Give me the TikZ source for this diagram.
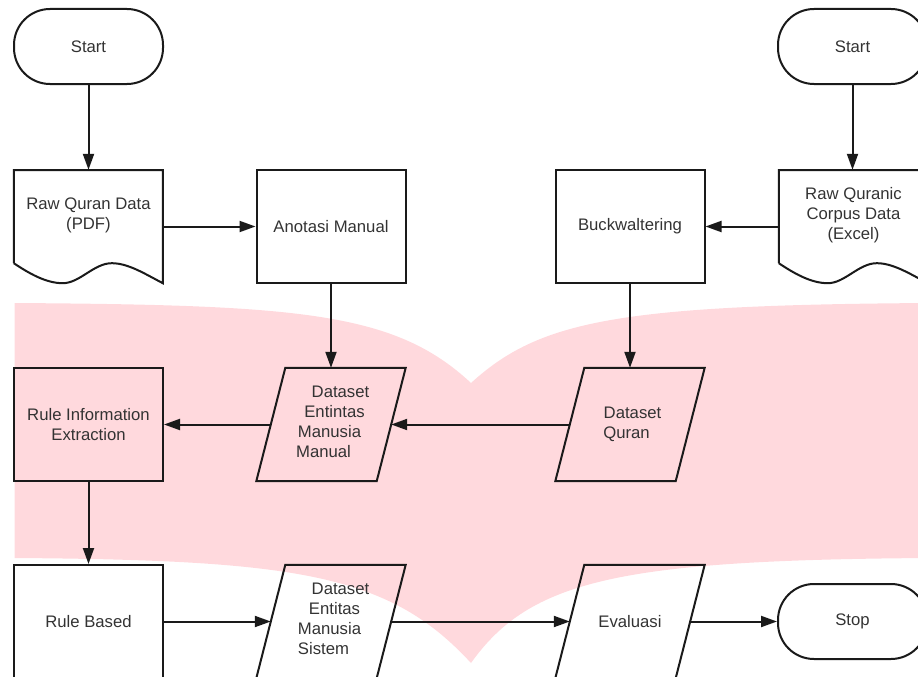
\documentclass[tikz,border=0pt]{standalone}
\usepackage{fontspec}
\setmainfont{Liberation Sans}
\usetikzlibrary{arrows.meta}
\definecolor{pinkbg}{RGB}{255,217,221}
\definecolor{txt}{HTML}{333333}
\definecolor{ln}{HTML}{1A1A1A}
\newcommand{\lnshift}[2]{\makebox[0pt][c]{\hspace{#1}#2}}
\begin{document}
\begin{tikzpicture}[x=1pt,y=-1pt,
  every node/.style={font=\fontsize{16.7}{20}\selectfont, text=txt},
  term/.style={draw=ln, line width=2pt, rounded corners=36pt, minimum width=149pt, minimum height=75pt, inner sep=0pt},
  procbox/.style={draw=ln, line width=2pt, minimum width=149pt, minimum height=113pt, inner sep=0pt, align=center},
  docnode/.style={minimum width=149pt, minimum height=113pt, inner sep=0pt, align=center},
  paranode/.style={minimum width=120pt, minimum height=113pt, inner sep=0pt, align=center},
  shapeline/.style={draw=ln, line width=2pt},
  arr/.style={draw=ln, line width=2pt, -{Triangle[length=16pt,width=11pt]}}
]
\useasboundingbox (0,0) rectangle (918,677);
% pink background banner
\fill[pinkbg] (14.6,303) .. controls (300,305) and (395,312) .. (471,383)
  .. controls (540,320) and (620,305) .. (930,303) -- (930,558)
  .. controls (620,560) and (530,580) .. (471,663)
  .. controls (390,575) and (300,560) .. (14.6,558) -- cycle;

% top row
\node[term] (s1) at (88.5,46.5) {Start};
\node[term] (s2) at (852.5,46.5) {Start};
\node[docnode] (rq) at (88.5,226.5) {Raw Quran Data\\(PDF)\\\strut};
\node[procbox] (am) at (331,226.5) {Anotasi Manual};
\node[procbox] (bw) at (630,226.5) {Buckwaltering};
\node[docnode] (rc) at (853.5,226.5) {Raw Quranic\\Corpus Data\\(Excel)\\\strut};

% middle row
\node[procbox] (rie) at (88.5,424.5) {Rule Information\\Extraction};
\node[paranode] (dm) at (331,424.5) {\lnshift{19pt}{Dataset}\\\lnshift{7pt}{Entintas}\\\lnshift{-3pt}{Manusia}\\\lnshift{-15pt}{Manual}\rule[-6pt]{0pt}{0pt}};
\node[paranode] (dq) at (630,424.5) {\lnshift{5pt}{Dataset}\\\lnshift{-7pt}{Quran}};

% bottom row
\node[procbox] (rb) at (88.5,621.5) {Rule Based};
\node[paranode] (ds) at (331,621.5) {\lnshift{19pt}{Dataset}\\\lnshift{7pt}{Entitas}\\\lnshift{-3pt}{Manusia}\\\lnshift{-15pt}{Sistem}\rule[-5pt]{0pt}{0pt}};
\node[paranode] (ev) at (630,621.5) {Evaluasi};
\node[term] (st) at (852.5,621.5) {Stop};

% document outlines
\foreach \n in {rq,rc}{
  \begin{scope}[shift={(\n.south west)}]
    \draw[shapeline] (0,-20) -- (0,-113) -- (149,-113) -- (149,0)
      .. controls (130,-10) and (114,-20) .. (98,-20)
      .. controls (80,-20) and (66,0) .. (49,0)
      .. controls (32,0) and (15,-10) .. (0,-20);
  \end{scope}
}
% parallelogram outlines
\foreach \n in {dm,dq,ds,ev}{
  \draw[shapeline] ([xshift=14.5pt]\n.north west) -- ([xshift=14.5pt]\n.north east)
    -- ([xshift=-14.5pt]\n.south east) -- ([xshift=-14.5pt]\n.south west) -- cycle;
}

% connectors
\draw[arr] (s1) -- (rq);
\draw[arr] (s2.south) -- (s2.south |- rc.north);
\draw[arr] (rq.east) -- (am.west);
\draw[arr] (rc.west) -- (bw.east);
\draw[arr] (am) -- (dm);
\draw[arr] (bw) -- (dq);
\draw[arr] (dq.west) -- (dm.east);
\draw[arr] (dm.west) -- (rie.east);
\draw[arr] (rie) -- (rb);
\draw[arr] (rb.east) -- (ds.west);
\draw[arr] (ds.east) -- (ev.west);
\draw[arr] (ev.east) -- (st.west);
\end{tikzpicture}
\end{document}
